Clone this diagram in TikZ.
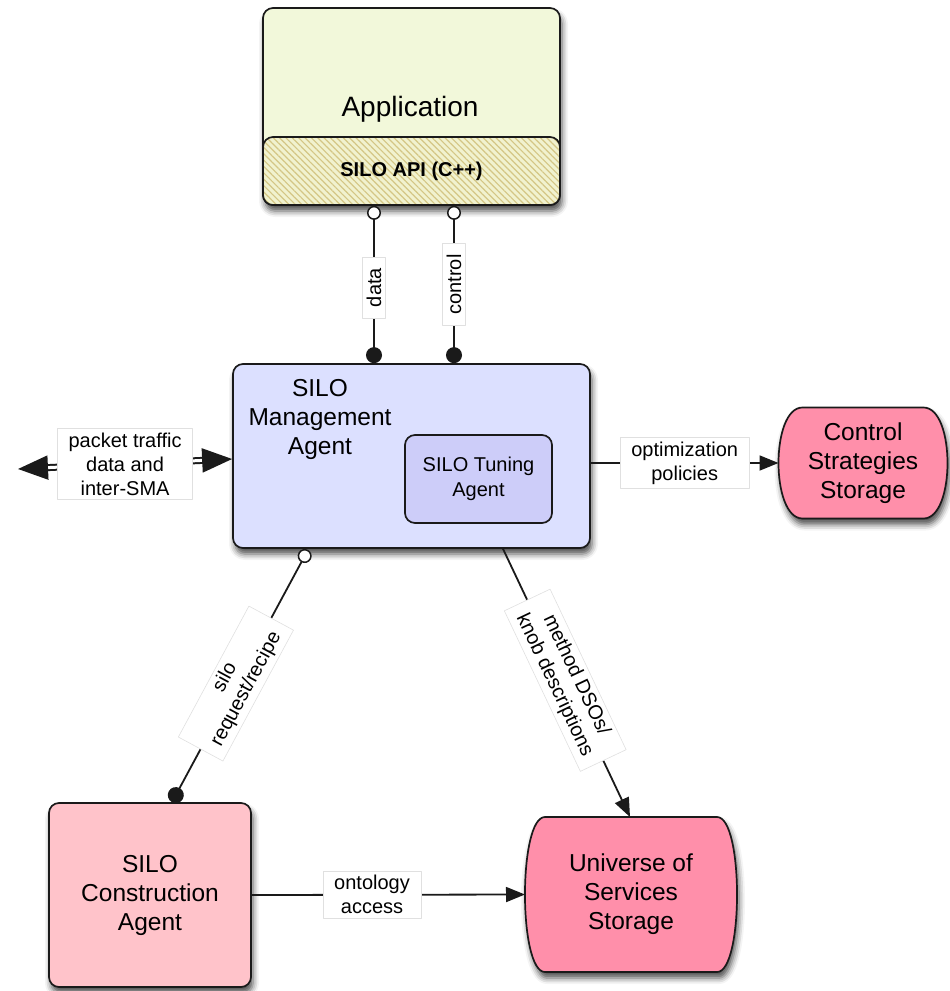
\documentclass[tikz,border=0pt]{standalone}
\usepackage{fontspec}
\setmainfont{Liberation Sans}
\usetikzlibrary{arrows.meta,patterns.meta,shadows.blur,calc}

\definecolor{appfill}{HTML}{F2F8DA}
\definecolor{apifill}{HTML}{F1F2CF}
\definecolor{hatch}{HTML}{D4C685}
\definecolor{mafill}{HTML}{DCE0FF}
\definecolor{tunefill}{HTML}{CDCDF9}
\definecolor{consfill}{HTML}{FFC3CA}
\definecolor{storefill}{HTML}{FF8FAA}
\definecolor{edge}{HTML}{1A1A1A}

\pgfdeclarelayer{shapes}
\pgfsetlayers{shapes,main}

\begin{document}
\begin{tikzpicture}[x=1pt,y=-1pt,line join=round,
  boxshadow/.style={blur shadow={shadow xshift=2pt,shadow yshift=-6pt,shadow blur radius=6pt,shadow opacity=70}},
  box/.style={draw=edge,line width=1.7pt,rounded corners=10pt,boxshadow},
  boxfont/.style={font=\fontsize{24.5}{29}\selectfont,align=center},
  storagenode/.style={draw=none,outer sep=0pt,inner sep=0pt,boxfont},
  storage/.style={draw=edge,line width=1.7pt,fill=storefill,boxshadow},
  conn/.style={draw=edge,line width=1.8pt},
  elabel/.style={fill=white,draw=black!12,line width=0.6pt,inner xsep=11pt,inner ysep=4pt,
                 align=center,font=\fontsize{20}{24}\selectfont,rounded corners=0pt},
  opendot/.style={{Circle[fill=white,length=14pt,line width=1.5pt]}-{Circle[length=16pt]}},
  pointer/.style={-{Triangle[length=19pt,width=15pt]}},
  twoway/.style={{Triangle[length=30pt,width=24pt]}-{Triangle[length=30pt,width=24pt]}}]
\useasboundingbox (0,0) rectangle (950,991);

% Application with its API layer
\node[box,fill=appfill,minimum width=297pt,minimum height=197pt] (app) at (411.5,106.5) {};
\node[font=\fontsize{28}{33}\selectfont] (apptitle) at (410,109) {Application};
\node[draw=edge,line width=1.7pt,rounded corners=10pt,minimum width=297pt,minimum height=68pt,
      preaction={fill=apifill},pattern={Lines[angle=-45,distance=4.5pt,line width=1.2pt]},pattern color=hatch,
      font=\bfseries\fontsize{20}{24}\selectfont] (api) at (411.5,171) {SILO API (C++)};

% Management agent and its tuning agent
\node[box,fill=mafill,minimum width=357pt,minimum height=184pt] (ma) at (411.5,456) {};
\node[boxfont] (matitle) at (320,419) {SILO\\Management\\Agent};
\node[draw=edge,line width=1.7pt,rounded corners=10pt,fill=tunefill,minimum width=147pt,minimum height=88pt,
      align=center,font=\fontsize{20}{25}\selectfont] (tune) at (478.5,479) {SILO Tuning\\Agent};

% Construction agent
\node[box,fill=consfill,minimum width=202pt,minimum height=184pt,boxfont] (cons) at (150,895) {SILO\\Construction\\Agent};

% Storage nodes (outline drawn on the lower layer)
\node[storagenode,minimum width=169pt,minimum height=111pt] (css) at (863,463) {Control\\Strategies\\Storage};
\node[storagenode,minimum width=212pt,minimum height=155pt] (uss) at (631,894.5) {Universe of\\Services\\Storage};
\begin{pgfonlayer}{shapes}
\path[storage] let \p1=(css.north west), \p2=(css.south east) in
  (\x1+24pt,\y1) -- (\x2-24pt,\y1) .. controls (\x2+8pt,\y1) and (\x2+8pt,\y2) .. (\x2-24pt,\y2)
  -- (\x1+24pt,\y2) .. controls (\x1-8pt,\y2) and (\x1-8pt,\y1) .. cycle;
\path[storage] let \p1=(uss.north west), \p2=(uss.south east) in
  (\x1+20pt,\y1) -- (\x2-20pt,\y1) .. controls (\x2+6.7pt,\y1) and (\x2+6.7pt,\y2) .. (\x2-20pt,\y2)
  -- (\x1+20pt,\y2) .. controls (\x1-6.7pt,\y2) and (\x1-6.7pt,\y1) .. cycle;
\end{pgfonlayer}

% Connectors
\draw[conn,opendot] ([xshift=-37.5pt]app.south) -- node[elabel,rotate=90,pos=0.52] {data} ([xshift=-37.5pt]ma.north);
\draw[conn,opendot] ([xshift=42.5pt]app.south) -- node[elabel,rotate=90,pos=0.5] {control} ([xshift=42.5pt]ma.north);

\coordinate (ext) at (18,469);
\draw[draw=edge,line width=2pt,double=white,double distance=3pt,twoway]
  ([yshift=-3pt]ma.west) -- node[elabel,midway] {packet traffic\\data and\\inter-SMA} (ext);

\draw[conn,pointer] (ma.east |- css) -- node[elabel,pos=0.5] {optimization\\policies} (css.west);

\draw[conn,opendot] ([xshift=-103.5pt,yshift=-1pt]ma.south) -- node[elabel,sloped,pos=0.53] {silo\\request/recipe} ([xshift=22pt]cons.north);

\draw[conn,pointer] ([xshift=91.5pt]ma.south) -- node[elabel,sloped,pos=0.49] {method DSOs/\\knob descriptions} ([xshift=-1pt]uss.north);

\draw[conn,pointer] (cons.east) -- node[elabel,pos=0.44] {ontology\\access} (uss.west);
\end{tikzpicture}
\end{document}
